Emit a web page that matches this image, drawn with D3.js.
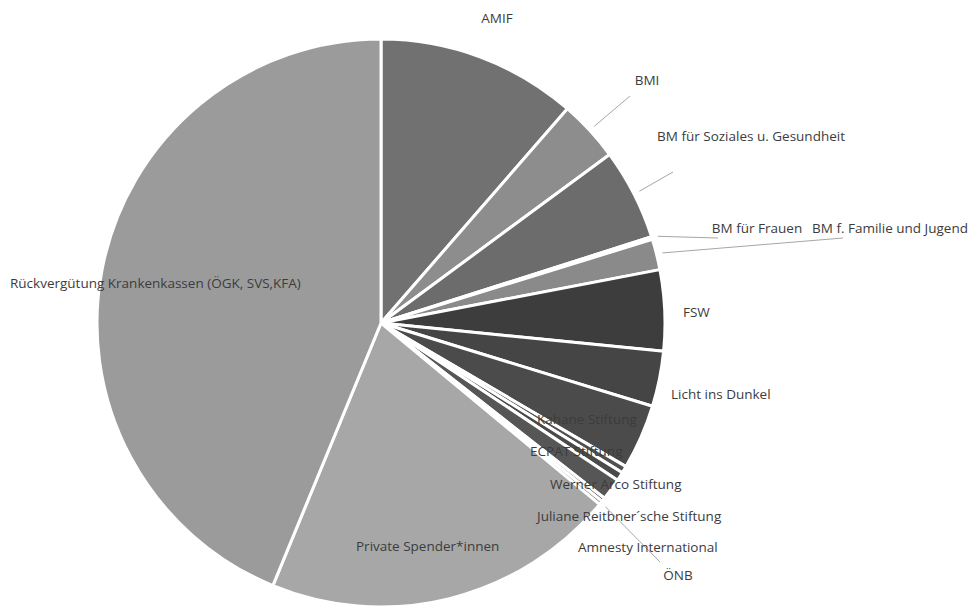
<!DOCTYPE html>
<html>
<head>
<meta charset="utf-8">
<script src="https://cdn.jsdelivr.net/npm/d3@7"></script>
<style>
  body { margin: 0; background: #fff; }
  text { font-family: "Open Sans", sans-serif; font-size: 13.5px; fill: #3c3c3c; }
</style>
</head>
<body>
<svg id="pie" width="979" height="608"></svg>
<script>
// Funding sources, share in percent
var sources = ["AMIF", "BMI", "BM für Soziales u. Gesundheit", "BM für Frauen", "BM f. Familie und Jugend",
	"FSW", "Licht ins Dunkel", "Kahane Stiftung", "ECPAT Stiftung", "Werner Arco Stiftung",
	"Juliane Reitbner´sche Stiftung", "Amnesty International", "ÖNB", "Private Spender*innen",
	"Rückvergütung Krankenkassen (ÖGK, SVS,KFA)"];
var shares = [11.4, 3.5, 5.2, 0.15, 1.75, 4.6, 3.15, 3.7, 0.4, 0.5, 1.25, 0.22, 0.22, 20.2, 43.8];
var fills = ["#717171", "#8d8d8d", "#6c6c6c", "#7a7a7a", "#8a8a8a", "#3d3d3d", "#454545", "#4b4b4b",
	"#505050", "#4a4a4a", "#565656", "#6a6a6a", "#8a8a8a", "#a7a7a7", "#9b9b9b"];

// label placement (layout only)
var labelPos = [
	[497, 18, "middle"], [647, 80, "middle"], [751, 136, "middle"],
	[757, 228, "middle"], [890, 228, "middle"], [683, 312, "start"],
	[671, 394, "start"], [537, 419, "start"], [530, 451, "start"],
	[550, 484, "start"], [537, 516, "start"], [578, 547, "start"],
	[678, 575, "middle"], [356, 546, "start"], [10, 283, "start"]
];
var leaderEnd = [null, [630, 96], [673, 172], [718, 238], [843, 238], null, null, null, null, null,
	null, null, [660, 562], null, null];

var svg = d3.select("#pie");
var cx = 381, cy = 323, R = 284;

var data = sources.map((s, i) => ({name: s, value: shares[i], i: i}));
var pie = d3.pie().sort(null).value(d => d.value);
var arc = d3.arc().innerRadius(0).outerRadius(R);
var arcs = pie(data);

var g = svg.append("g").attr("transform", "translate(" + cx + "," + cy + ")");

g.selectAll("path")
	.data(arcs)
	.enter().append("path")
	.attr("d", arc)
	.attr("fill", d => fills[d.data.i])
	.attr("stroke", "#fff")
	.attr("stroke-width", 3)
	.attr("stroke-linejoin", "round");

// leader lines
var leaders = arcs.filter(d => leaderEnd[d.data.i]);
svg.append("g").selectAll("line")
	.data(leaders)
	.enter().append("line")
	.attr("x1", d => cx + Math.sin((d.startAngle + d.endAngle) / 2) * (R + 6))
	.attr("y1", d => cy - Math.cos((d.startAngle + d.endAngle) / 2) * (R + 6))
	.attr("x2", d => leaderEnd[d.data.i][0])
	.attr("y2", d => leaderEnd[d.data.i][1])
	.attr("stroke", "#a6a6a6")
	.attr("stroke-width", 1);

svg.append("g").selectAll("text")
	.data(data)
	.enter().append("text")
	.attr("x", d => labelPos[d.i][0])
	.attr("y", d => labelPos[d.i][1])
	.attr("dy", "0.35em")
	.attr("text-anchor", d => labelPos[d.i][2])
	.text(d => d.name);
</script>
</body>
</html>
